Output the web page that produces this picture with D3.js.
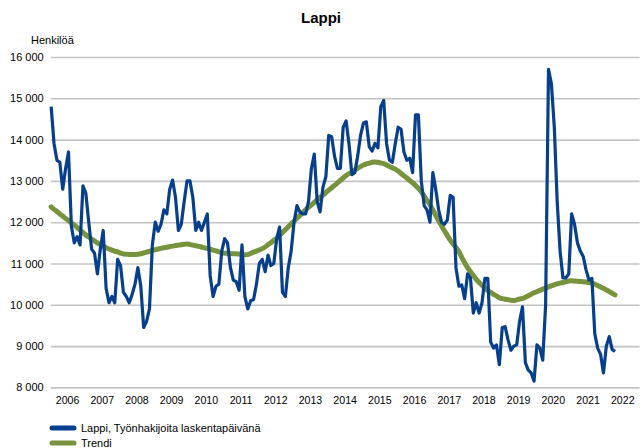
<!DOCTYPE html>
<html>
<head>
<meta charset="utf-8">
<script src="https://cdn.jsdelivr.net/npm/d3@7"></script>
<style>
  body { margin: 0; background: #fff; }
  svg { display: block; font-family: "Liberation Sans", Arial, sans-serif; }
</style>
</head>
<body>
<svg id="chart" width="644" height="448"></svg>
<script>
// Monthly data, January 2006 – April 2022
const startYear = 2006;
const years = ["2006","2007","2008","2009","2010","2011","2012","2013","2014","2015","2016","2017","2018","2019","2020","2021","2022"];
const yTicks = [8000, 9000, 10000, 11000, 12000, 13000, 14000, 15000, 16000];
const seriesNames = ["Lappi, Työnhakijoita laskentapäivänä", "Trendi"];

const jobSeekers = [
  // 2006
  14800, 13900, 13500, 13450, 12800, 13300, 13700, 11900, 11500, 11650, 11450, 12880,
  // 2007
  12700, 12000, 11350, 11250, 10750, 11350, 11800, 10400, 10050, 10200, 10050, 11100,
  // 2008
  10950, 10300, 10200, 10050, 10250, 10500, 10900, 10450, 9450, 9600, 9900, 11450,
  // 2009
  12000, 11780, 11950, 12300, 12200, 12800, 13020, 12600, 11800, 11950, 12500, 13000,
  // 2010
  13000, 12600, 11800, 12000, 11800, 12000, 12200, 10700, 10200, 10450, 10500, 11300,
  // 2011
  11600, 11500, 10900, 10600, 10560, 10350, 11450, 10200, 9900, 10100, 10130, 10500,
  // 2012
  11000, 11100, 10800, 11200, 10950, 11000, 11600, 11880, 10300, 10200, 10900, 11300,
  // 2013
  12000, 12400, 12250, 12200, 12200, 12500, 13300, 13650, 12500, 12250, 12850, 13100,
  // 2014
  14100, 14070, 13600, 13300, 13300, 14300, 14450, 13900, 13150, 13200, 13600, 14100,
  // 2015
  14400, 14430, 13830, 13720, 13910, 13800, 14800, 14950, 13900, 13500, 13450, 13900,
  // 2016
  14300, 14250, 13700, 13500, 13550, 13200, 14600, 14600, 13000, 12400, 12300, 12000,
  // 2017
  13200, 12800, 12300, 12000, 11950, 12050, 12650, 12600, 10900, 10450, 10480, 10150,
  // 2018
  10750, 10650, 9800, 10050, 9800, 10050, 10640, 10640, 9100, 8950, 9030, 8550,
  // 2019
  9450, 9470, 9150, 8900, 9000, 9030, 9600, 9950, 8600, 8420, 8350, 8150,
  // 2020
  9030, 8950, 8660, 10000, 15700, 15350, 14300, 12500, 11300, 10650, 10650, 10750,
  // 2021
  12200, 11950, 11500, 11300, 11170, 10840, 10600, 10640, 9300, 8950, 8800, 8350,
  // 2022
  9000, 9230, 8920, 8870
];

const trend = [
  // 2006
  12370, 12310, 12260, 12200, 12150, 12090, 12040, 11980, 11930, 11870, 11810, 11750,
  // 2007
  11690, 11640, 11590, 11545, 11500, 11460, 11420, 11380, 11350, 11325, 11300, 11280,
  // 2008
  11250, 11230, 11225, 11220, 11220, 11220, 11225, 11235, 11255, 11275, 11295, 11315,
  // 2009
  11335, 11350, 11365, 11380, 11395, 11410, 11420, 11435, 11445, 11455, 11465, 11475,
  // 2010
  11460, 11445, 11430, 11415, 11400, 11380, 11365, 11345, 11325, 11305, 11280, 11260,
  // 2011
  11250, 11245, 11240, 11238, 11234, 11230, 11222, 11212, 11215, 11245, 11275, 11300,
  // 2012
  11330, 11360, 11400, 11455, 11505, 11560, 11610, 11680, 11750, 11820, 11890, 11955,
  // 2013
  12025, 12095, 12165, 12235, 12300, 12360, 12420, 12480, 12540, 12600, 12655, 12715,
  // 2014
  12775, 12835, 12890, 12950, 13010, 13070, 13130, 13175, 13215, 13260, 13305, 13345,
  // 2015
  13385, 13410, 13430, 13450, 13460, 13450, 13435, 13420, 13385, 13350, 13315, 13285,
  // 2016
  13240, 13180, 13125, 13070, 13010, 12955, 12890, 12820, 12735, 12630, 12525, 12425,
  // 2017
  12295, 12165, 12035, 11915, 11795, 11680, 11565, 11475, 11390, 11290, 11150, 11020,
  // 2018
  10900, 10805, 10710, 10615, 10540, 10475, 10405, 10345, 10300, 10255, 10215, 10170,
  // 2019
  10150, 10135, 10125, 10110, 10105, 10120, 10140, 10155, 10185, 10220, 10255, 10290,
  // 2020
  10320, 10350, 10380, 10405, 10435, 10460, 10485, 10505, 10525, 10540, 10560, 10575,
  // 2021
  10580, 10575, 10570, 10565, 10560, 10550, 10540, 10525, 10500, 10465, 10430, 10400,
  // 2022
  10360, 10320, 10280, 10240
];

const colors = ["#073f8c", "#77933c"];

const svg = d3.select("#chart");
const margin = { left: 49.7, right: 4.4, top: 57, bottom: 60.6 };
const W = 644, H = 448;

const x = d3.scaleLinear()
  .domain([0, years.length * 12])
  .range([margin.left, W - margin.right]);
const y = d3.scaleLinear()
  .domain([8000, 16000])
  .range([H - margin.bottom, margin.top]);

const fmt = v => d3.format(",")(v).replace(",", " ");

// Title
svg.append("text")
  .attr("x", 321).attr("y", 23)
  .attr("text-anchor", "middle")
  .attr("font-size", 15).attr("font-weight", "bold")
  .attr("fill", "#000")
  .text("Lappi");

// Y unit label
svg.append("text")
  .attr("x", 31).attr("y", 44)
  .attr("font-size", 11).attr("fill", "#000")
  .text("Henkilöä");

// Y axis with gridlines
const yAxis = svg.append("g")
  .attr("transform", `translate(${margin.left + 1},0)`)
  .call(d3.axisLeft(y).tickValues(yTicks).tickFormat(fmt)
    .tickSize(-(W - margin.right - margin.left - 1)).tickPadding(7));
yAxis.select(".domain").remove();
yAxis.selectAll(".tick line").attr("stroke", "#c4c4c4").attr("stroke-width", 1.6);
yAxis.selectAll(".tick text").attr("font-size", 11).attr("fill", "#000")
  .attr("font-family", "Liberation Sans, Arial, sans-serif");

// X axis labels (centered in each year)
const xAxis = svg.append("g")
  .attr("transform", `translate(0,${H - margin.bottom})`)
  .call(d3.axisBottom(x)
    .tickValues(years.map((d, i) => i * 12 + 6))
    .tickFormat((d, i) => years[i])
    .tickSize(0).tickPadding(9));
xAxis.select(".domain").remove();
xAxis.selectAll(".tick text").attr("font-size", 10.6).attr("fill", "#000")
  .attr("font-family", "Liberation Sans, Arial, sans-serif");

// Lines
const lineGen = d3.line()
  .x((d, i) => x(i + 0.5))
  .y(d => y(d));

svg.append("path")
  .datum(trend)
  .attr("fill", "none")
  .attr("stroke", colors[1])
  .attr("stroke-width", 5)
  .attr("stroke-linejoin", "round")
  .attr("stroke-linecap", "round")
  .attr("d", lineGen.curve(d3.curveMonotoneX));

svg.append("path")
  .datum(jobSeekers)
  .attr("fill", "none")
  .attr("stroke", colors[0])
  .attr("stroke-width", 3.2)
  .attr("stroke-linejoin", "round")
  .attr("d", d3.line().x((d, i) => x(i + 0.5)).y(d => y(d)));

// Legend
const legend = svg.append("g");
seriesNames.forEach((name, i) => {
  const ly = 428 + i * 15;
  legend.append("line")
    .attr("x1", 52).attr("x2", 74)
    .attr("y1", ly).attr("y2", ly)
    .attr("stroke", colors[i]).attr("stroke-width", 5)
    .attr("stroke-linecap", "round");
  legend.append("text")
    .attr("x", 81).attr("y", ly + 4)
    .attr("font-size", 11).attr("fill", "#000")
    .text(name);
});
</script>
</body>
</html>
